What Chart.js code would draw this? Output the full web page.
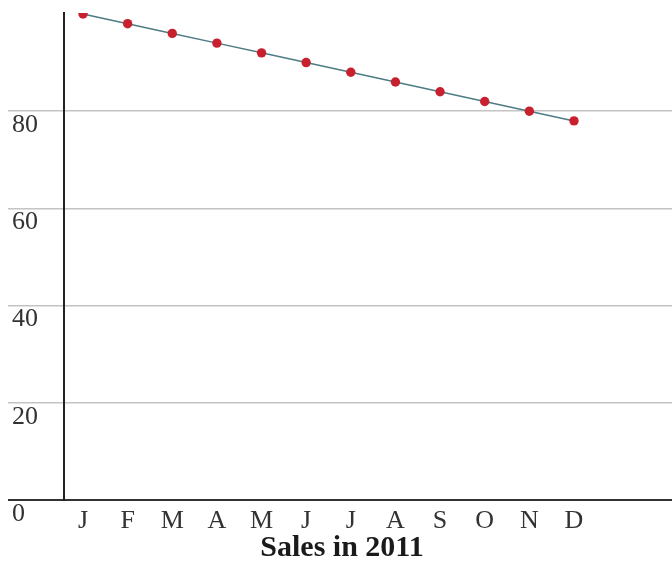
<!DOCTYPE html>
<html><head><meta charset="utf-8">
<script src="https://cdn.jsdelivr.net/npm/chart.js@4/dist/chart.umd.min.js"></script>
<style>html,body{margin:0;padding:0;background:#fff}#wrap{width:672px;height:563px}</style>
</head><body><div id="wrap"><canvas id="c"></canvas></div>
<script>
const months = ['J','F','M','A','M','J','J','A','S','O','N','D'];
const sales = [100,98,96,94,92,90,88,86,84,82,80,78];
const yTicks = [0,20,40,60,80];
const xTitle = 'Sales in 2011';

const serif = 'Liberation Serif, Times New Roman, serif';
const points = sales.map((v,i)=>({x:i,y:v}));

new Chart(document.getElementById('c'), {
  type:'line',
  data:{datasets:[{
    data:points,
    borderColor:'#4d7c84',
    borderWidth:1.5,
    pointBackgroundColor:'#c8202f',
    pointBorderColor:'#c8202f',
    pointRadius:4.7,
    pointBorderWidth:0,
    tension:0
  }]},
  options:{
    responsive:true, maintainAspectRatio:false, animation:false,
    layout:{autoPadding:false, padding:{top:13,left:12,right:0,bottom:0}},
    plugins:{
      legend:{display:false}, tooltip:{enabled:false},
      title:{display:true, position:'bottom', text:xTitle, color:'#1a1a1a',
        font:{family:serif, size:30, weight:'bold', lineHeight:1}, padding:{top:0,bottom:0}}
    },
    scales:{
      x:{type:'linear', min:-0.4257, max:13.196,
        afterBuildTicks:s=>{s.ticks = months.map((m,i)=>({value:i}));},
        afterFit:s=>{s.height=33; s.paddingLeft=0; s.paddingRight=0;},
        ticks:{callback:v=>months[v], font:{family:serif,size:26}, color:'#333', padding:6, maxRotation:0, autoSkip:false},
        grid:{display:false, drawTicks:false},
        border:{display:true, color:'#333', width:2}
      },
      y:{min:0, max:100.2,
        afterBuildTicks:s=>{s.ticks = yTicks.map(v=>({value:v}));},
        afterFit:s=>{s.width=52; s.paddingTop=0; s.paddingBottom=0;},
        ticks:{crossAlign:'far', labelOffset:14, font:{family:serif,size:26}, color:'#333', padding:0},
        grid:{color:c=>(c.tick && c.tick.value===0)?'#333':'#c4c4c4',
              lineWidth:c=>(c.tick && c.tick.value===0)?2:1.5,
              drawTicks:true, tickLength:56},
        border:{display:true, color:'#222', width:2}
      }
    }
  }
});
</script></body></html>
